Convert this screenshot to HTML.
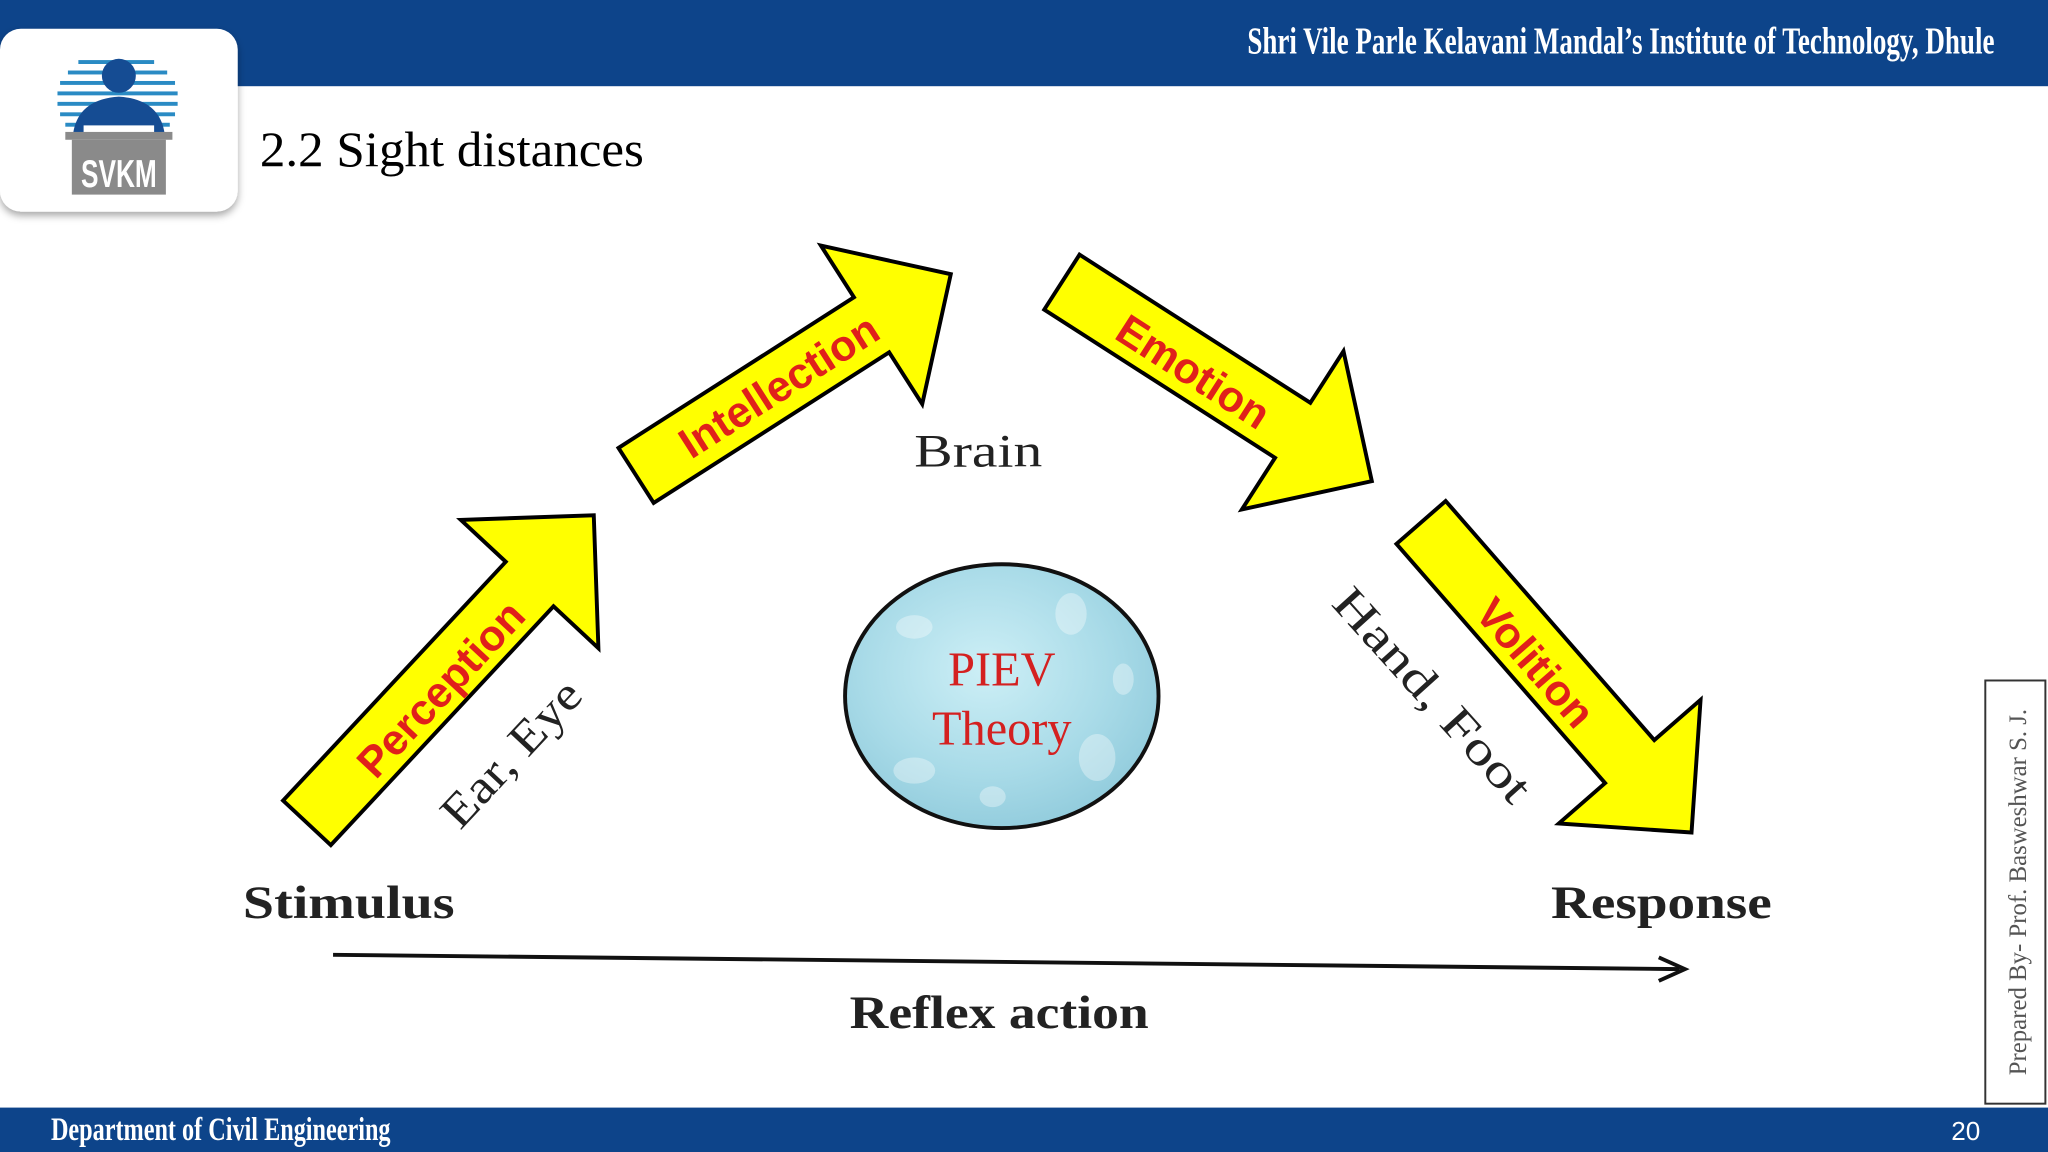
<!DOCTYPE html>
<html><head><meta charset="utf-8"><style>
html,body{margin:0;padding:0;background:#fff;}
svg{display:block;}
</style></head><body>
<svg width="2048" height="1152" viewBox="0 0 1568 882" xmlns="http://www.w3.org/2000/svg">
<defs>
<radialGradient id="wg" cx="45%" cy="40%" r="65%">
<stop offset="0" stop-color="#cdeff6"/><stop offset="0.6" stop-color="#a9dbe8"/><stop offset="1" stop-color="#8fcadb"/>
</radialGradient>
<filter id="sh" x="-10%" y="-10%" width="130%" height="130%"><feDropShadow dx="0" dy="3" stdDeviation="3" flood-color="#000" flood-opacity="0.35"/></filter>
</defs>
<rect width="1568" height="882" fill="#fff"/>
<rect x="0" y="0" width="1568" height="66" fill="#0d448a"/>
<text x="1527" y="41" text-anchor="end" fill="#fff" font-family="Liberation Serif, serif" font-size="29" font-weight="bold" textLength="572" lengthAdjust="spacingAndGlyphs">Shri Vile Parle Kelavani Mandal’s Institute of Technology, Dhule</text>
<rect x="0" y="22" width="182" height="140" rx="16" fill="#fff" filter="url(#sh)"/>
<g fill="#2a8bc4">
<rect x="60" y="46" width="58" height="3"/>
<rect x="52" y="54" width="76" height="3"/>
<rect x="46" y="62" width="88" height="3"/>
<rect x="44" y="70" width="92" height="3"/>
<rect x="44" y="78" width="92" height="3"/>
<rect x="46" y="86" width="88" height="3"/>
<rect x="50" y="94" width="80" height="3"/>
</g>
<circle cx="91" cy="58" r="13" fill="#154c93"/>
<path d="M56 102 Q60 76 91 74 Q122 76 126 102 Z" fill="#154c93"/>
<rect x="64" y="96" width="54" height="6" fill="#fff"/>
<rect x="50" y="101" width="82" height="6" fill="#8a8a8a"/>
<rect x="55" y="107" width="72" height="42" fill="#8a8a8a"/>
<text x="91" y="143" text-anchor="middle" fill="#fff" font-family="Liberation Sans, sans-serif" font-weight="bold" font-size="30" textLength="58" lengthAdjust="spacingAndGlyphs">SVKM</text>
<text x="199" y="127" fill="#000" font-family="Liberation Serif, serif" font-size="38" textLength="294" lengthAdjust="spacingAndGlyphs">2.2 Sight distances</text>

<g stroke="#000" stroke-width="3" fill="#ffff00" stroke-linejoin="miter">
<g transform="translate(235,630) rotate(-47)"><polygon points="0,-25 250,-25 250,-72 322,0 250,72 250,25 0,25"/></g>
<g transform="translate(487,364) rotate(-32.6)"><polygon points="0,-25 214,-25 214,-72 286,0 214,72 214,25 0,25"/></g>
<g transform="translate(813,216) rotate(32.7)"><polygon points="0,-25 210,-25 210,-72 282,0 210,72 210,25 0,25"/></g>
<g transform="translate(1088,400) rotate(48.9)"><polygon points="0,-25 243,-25 243,-72 315,0 243,72 243,25 0,25"/></g>
</g>
<g fill="#e0201b" font-family="Liberation Sans, sans-serif" font-weight="bold" font-size="33">
<text transform="translate(337,527) rotate(-47)" text-anchor="middle" dy="12">Perception</text>
<text transform="translate(596,295) rotate(-32.6)" text-anchor="middle" dy="12">Intellection</text>
<text transform="translate(914,284) rotate(32.7)" text-anchor="middle" dy="12">Emotion</text>
<text transform="translate(1176,507) rotate(48.9)" text-anchor="middle" dy="12">Volition</text>
</g>

<g font-family="Liberation Serif, serif" fill="#222">
<text x="749" y="357" text-anchor="middle" font-size="36" textLength="98" lengthAdjust="spacingAndGlyphs">Brain</text>
<text transform="translate(400,585) rotate(-47)" text-anchor="middle" font-size="36" textLength="140" lengthAdjust="spacingAndGlyphs">Ear, Eye</text>
<text transform="translate(1088,540) rotate(48)" text-anchor="middle" font-size="36" textLength="208" lengthAdjust="spacingAndGlyphs">Hand, Foot</text>
<text x="267" y="703" text-anchor="middle" font-size="36" font-weight="bold" textLength="162" lengthAdjust="spacingAndGlyphs">Stimulus</text>
<text x="1272" y="703" text-anchor="middle" font-size="36" font-weight="bold" textLength="169" lengthAdjust="spacingAndGlyphs">Response</text>
<text x="765" y="787" text-anchor="middle" font-size="36" font-weight="bold" textLength="229" lengthAdjust="spacingAndGlyphs">Reflex action</text>
</g>
<line x1="255" y1="731" x2="1286" y2="742" stroke="#111" stroke-width="3"/>
<polyline points="1270,733 1290,742 1270,751" fill="none" stroke="#111" stroke-width="3"/>

<ellipse cx="767" cy="533" rx="120" ry="101" fill="url(#wg)" stroke="#111" stroke-width="3"/>
<g fill="#fff" opacity="0.35">
<ellipse cx="700" cy="480" rx="14" ry="9"/><ellipse cx="820" cy="470" rx="12" ry="16"/>
<ellipse cx="840" cy="580" rx="14" ry="18"/><ellipse cx="700" cy="590" rx="16" ry="10"/>
<ellipse cx="760" cy="610" rx="10" ry="8"/><ellipse cx="860" cy="520" rx="8" ry="12"/>
</g>
<g fill="#d42020" font-family="Liberation Serif, serif" font-size="37" text-anchor="middle">
<text x="767" y="525">PIEV</text>
<text x="767" y="570">Theory</text>
</g>

<rect x="1520" y="521" width="46" height="324" fill="#fff" stroke="#333" stroke-width="1.5"/>
<text transform="translate(1551,683) rotate(-90)" text-anchor="middle" font-family="Liberation Serif, serif" font-size="19" fill="#555">Prepared By- Prof. Basweshwar S. J.</text>

<rect x="0" y="848" width="1568" height="34" fill="#0d448a"/>
<text x="39" y="873" fill="#fff" font-family="Liberation Serif, serif" font-size="25" font-weight="bold" textLength="260" lengthAdjust="spacingAndGlyphs">Department of Civil Engineering</text>
<text x="1505" y="873" text-anchor="middle" fill="#fff" font-family="Liberation Sans, sans-serif" font-size="20">20</text>
</svg>
</body></html>
